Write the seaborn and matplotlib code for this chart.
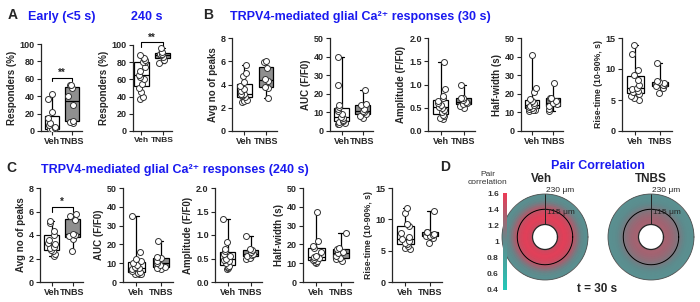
import numpy as np
import pandas as pd
import seaborn as sns
import matplotlib.pyplot as plt
from matplotlib.colors import LinearSegmentedColormap

groups = ['Veh', 'TNBS']

# A: responders (%)
early_veh = [0, 1, 2, 2, 3, 5, 7, 9, 15, 22, 37, 43]
early_tnbs = [9, 10, 12, 30, 40, 50, 53, 53]
late_veh = [37, 40, 45, 50, 55, 60, 63, 65, 70, 75, 80, 80, 82, 85, 88]
late_tnbs = [79, 83, 86, 88, 89, 90, 92, 96]

# B: 30 s
peaks30_veh = [2.5, 2.6, 2.7, 2.9, 3.0, 3.1, 3.2, 3.2, 3.4, 3.6, 3.9, 4.2, 4.7, 5.0, 5.7]
peaks30_tnbs = [2.8, 3.7, 3.8, 4.3, 4.5, 5.4, 5.9, 6.0]
auc30_veh = [4, 4, 4.5, 5, 5.5, 6, 7, 7.5, 9, 11, 12, 13, 14, 25, 40]
auc30_tnbs = [7, 8, 9, 10, 11, 12, 14, 14.5, 22]
amp30_veh = [0.25, 0.28, 0.32, 0.35, 0.4, 0.45, 0.5, 0.52, 0.55, 0.6, 0.65, 0.7, 0.75, 0.9, 1.48]
amp30_tnbs = [0.5, 0.53, 0.57, 0.6, 0.63, 0.66, 0.7, 0.72, 0.98]
half30_veh = [11, 11.2, 11.5, 12, 12.5, 13, 13.5, 14, 15, 16, 17, 21, 23, 41]
half30_tnbs = [11, 12, 13.5, 14.5, 15, 16, 17.5, 18, 26]
rise30_veh = [5.0, 5.3, 5.6, 6.0, 6.3, 6.5, 6.8, 7.0, 7.5, 8.3, 9.0, 9.8, 12.5, 13.8]
rise30_tnbs = [6.1, 7.0, 7.3, 7.4, 7.5, 7.7, 7.9, 8.0, 10.9]

# C: 240 s
peaks240_veh = [2.2, 2.4, 2.6, 2.7, 2.9, 3.0, 3.2, 3.3, 3.6, 4.0, 4.3, 5.0, 5.2]
peaks240_tnbs = [2.6, 3.7, 3.9, 4.0, 4.1, 5.3, 5.6, 5.8]
auc240_veh = [4, 4, 4.5, 5, 5.5, 6, 7, 7.5, 8, 9, 10, 11, 12, 16, 35]
auc240_tnbs = [7, 7.5, 8, 9, 10, 11, 13, 13.5, 22]
amp240_veh = [0.27, 0.3, 0.32, 0.35, 0.4, 0.44, 0.47, 0.5, 0.55, 0.6, 0.65, 0.7, 0.85, 1.35]
amp240_tnbs = [0.5, 0.52, 0.55, 0.58, 0.6, 0.63, 0.68, 0.7, 0.97]
half240_veh = [10, 10.5, 11, 11.5, 12, 13, 13.5, 14, 16, 18, 19, 22, 37]
half240_tnbs = [11, 12, 13, 14, 15.5, 16, 17.5, 18, 26]
rise240_veh = [5.3, 5.5, 5.8, 6.0, 6.3, 6.5, 6.8, 7.2, 7.8, 9.0, 9.2, 11.0, 11.8]
rise240_tnbs = [6.2, 7.0, 7.3, 7.4, 7.5, 7.7, 7.9, 8.0, 11.3]

# D: radial pair correlation profile (distance in um)
radius_um = [0, 15, 30, 45, 60, 75, 90, 105, 120, 135, 150, 165, 180, 200, 215, 230]
paircorr_veh = [1.42, 1.48, 1.52, 1.55, 1.55, 1.53, 1.5, 1.45, 1.38, 1.3, 1.2, 1.1, 1.03, 0.98, 0.96, 0.95]
paircorr_tnbs = [1.28, 1.3, 1.3, 1.28, 1.26, 1.23, 1.2, 1.16, 1.12, 1.07, 1.03, 1.0, 0.97, 0.96, 0.95, 0.95]
cbar_ticks = [0.4, 0.6, 0.8, 1.0, 1.2, 1.4, 1.6]
cbar_labels = ['0.4', '0.6', '0.8', '1', '1.2', '1.4', '1.6']

sns.set_style('ticks')
plt.rcParams['font.family'] = ['Liberation Sans', 'DejaVu Sans']
plt.rcParams['font.weight'] = 'bold'
plt.rcParams['axes.labelweight'] = 'bold'
plt.rcParams['axes.linewidth'] = 0.9

W, H = 700, 302
BLUE = '#1a1af0'
fig = plt.figure(figsize=(7, 3.02), dpi=100)


def px_axes(l, r, t, b, **kw):
    return fig.add_axes([l / W, 1 - b / H, (r - l) / W, (b - t) / H], **kw)


def ftext(x, y, s, **kw):
    fig.text(x / W, 1 - y / H, s, **kw)


def draw_panel(ax, veh, tnbs, ymax, step, ylabel, lsize=7, xlim=(-0.55, 1.5), xsize=6.5):
    df = pd.DataFrame({'group': ['Veh'] * len(veh) + ['TNBS'] * len(tnbs),
                       'value': veh + tnbs})
    sns.boxplot(data=df, x='group', y='value', hue='group', order=groups,
                palette=['white', '#8f8f8f'], whis=(0, 100), width=0.68,
                linecolor='black', linewidth=0.9, showfliers=False,
                capwidths=0.2, legend=False, ax=ax)
    sns.stripplot(data=df, x='group', y='value', order=groups, color='white',
                  edgecolor='#333333', linewidth=0.7, size=4.3, jitter=0.2,
                  zorder=3, ax=ax)
    ax.set_ylim(0, ymax)
    ax.set_yticks(np.arange(0, ymax + step / 2, step))
    ax.set_xlim(*xlim)
    ax.set_xlabel('')
    ax.set_ylabel(ylabel, fontsize=lsize, labelpad=2)
    ax.tick_params(labelsize=6.5, length=3, width=0.8, pad=1.5)
    ax.tick_params(axis='x', labelsize=xsize)
    sns.despine(ax=ax)


def bracket(ax, y0, y1, label):
    ax.plot([0, 0, 1, 1], [y0, y1, y1, y0], color='black', lw=0.8, clip_on=False)
    ax.text(0.5, y1, label, ha='center', va='bottom', fontsize=7, clip_on=False)


np.random.seed(3)

# row 1
ax = px_axes(41, 82, 44, 131)
draw_panel(ax, early_veh, early_tnbs, 100, 20, 'Responders (%)')
bracket(ax, 57, 61, '**')
ax = px_axes(133, 172, 45, 131)
draw_panel(ax, late_veh, late_tnbs, 100, 20, 'Responders (%)', xlim=(-0.4, 1.45), xsize=6)
bracket(ax, 98, 103, '**')

row1 = [(232, 277, peaks30_veh, peaks30_tnbs, 8, 2, 'Avg no of peaks', 7),
        (330, 373, auc30_veh, auc30_tnbs, 50, 10, 'AUC (F/F0)', 7),
        (428, 475, amp30_veh, amp30_tnbs, 2.0, 0.5, 'Amplitude (F/F0)', 7),
        (521, 563, half30_veh, half30_tnbs, 50, 10, 'Half-width (s)', 7),
        (622, 672, rise30_veh, rise30_tnbs, 15, 5, 'Rise-time (10-90%, s)', 6.3)]
for l, r, v, t, ym, st, lab, ls in row1:
    ax = px_axes(l, r, 38, 131)
    draw_panel(ax, v, t, ym, st, lab, ls)

# row 2
row2 = [(40, 83, peaks240_veh, peaks240_tnbs, 8, 2, 'Avg no of peaks', 7),
        (123, 173, auc240_veh, auc240_tnbs, 50, 10, 'AUC (F/F0)', 7),
        (215, 262, amp240_veh, amp240_tnbs, 2.0, 0.5, 'Amplitude (F/F0)', 7),
        (303, 353, half240_veh, half240_tnbs, 50, 10, 'Half-width (s)', 7),
        (392, 442, rise240_veh, rise240_tnbs, 15, 5, 'Rise-time (10-90%, s)', 6.3)]
for i, (l, r, v, t, ym, st, lab, ls) in enumerate(row2):
    ax = px_axes(l, r, 188, 282)
    draw_panel(ax, v, t, ym, st, lab, ls)
    if i == 0:
        bracket(ax, 6.0, 6.4, '*')

# panel D donuts
cmap = LinearSegmentedColormap.from_list('pc', ['#22c8b8', '#5f8b8d', '#ec3a55'])
theta = np.linspace(0, 2 * np.pi, 181)
mesh = None
for cx, prof in [(545, paircorr_veh), (651, paircorr_tnbs)]:
    pax = px_axes(cx - 43, cx + 43, 194, 280, projection='polar')
    C = np.tile(np.array(prof)[:, None], (1, len(theta)))
    mesh = pax.pcolormesh(theta, radius_um, C, cmap=cmap, vmin=0.4, vmax=1.6,
                          shading='gouraud')
    pax.plot(theta, [115] * len(theta), color='black', lw=0.7)
    pax.plot([np.pi / 2, np.pi / 2], [0, 230], color='#222222', lw=0.7)
    pax.set_rorigin(-94)
    pax.set_ylim(0, 230)
    pax.set_xticks([])
    pax.set_yticks([])
    pax.grid(False)
    pax.spines['polar'].set_color('#555555')
    pax.spines['polar'].set_linewidth(0.6)
    pax.spines['inner'].set_visible(False)
    ftext(cx + 1, 190, '230 μm', fontsize=6, fontweight='normal', ha='left', va='center')
    ftext(cx + 2, 213, '115 μm', fontsize=6, fontweight='normal', ha='left', va='center')

cax = px_axes(503, 507, 193, 290)
cb = fig.colorbar(mesh, cax=cax, ticks=cbar_ticks)
cb.outline.set_visible(False)
cax.set_yticklabels(cbar_labels)
cax.yaxis.set_ticks_position('left')
cax.tick_params(labelsize=6, length=0, pad=3, colors='#333333')

# texts
ftext(8, 15, 'A', fontsize=10, va='center', ha='left')
ftext(62, 17, 'Early (<5 s)', fontsize=9, color=BLUE, ha='center', va='center')
ftext(147, 17, '240 s', fontsize=9, color=BLUE, ha='center', va='center')
ftext(203, 15, 'B', fontsize=10, va='center', ha='left')
ftext(360, 17, 'TRPV4-mediated glial Ca²⁺ responses (30 s)', fontsize=9,
      color=BLUE, ha='center', va='center')
ftext(6, 168, 'C', fontsize=10, va='center', ha='left')
ftext(175, 170, 'TRPV4-mediated glial Ca²⁺ responses (240 s)', fontsize=9,
      color=BLUE, ha='center', va='center')
ftext(440, 167, 'D', fontsize=10, va='center', ha='left')
ftext(598, 166, 'Pair Correlation', fontsize=9, color=BLUE, ha='center', va='center')
ftext(541, 179, 'Veh', fontsize=8.5, ha='center', va='center')
ftext(651, 179, 'TNBS', fontsize=8.5, ha='center', va='center')
ftext(597, 289, 't = 30 s', fontsize=8.5, ha='center', va='center')
ftext(488, 175, 'Pair', fontsize=6, fontweight='normal', color='#333333', ha='center', va='center')
ftext(487, 183, 'correlation', fontsize=6, fontweight='normal', color='#333333', ha='center', va='center')

fig.savefig('out.png', dpi=100)
